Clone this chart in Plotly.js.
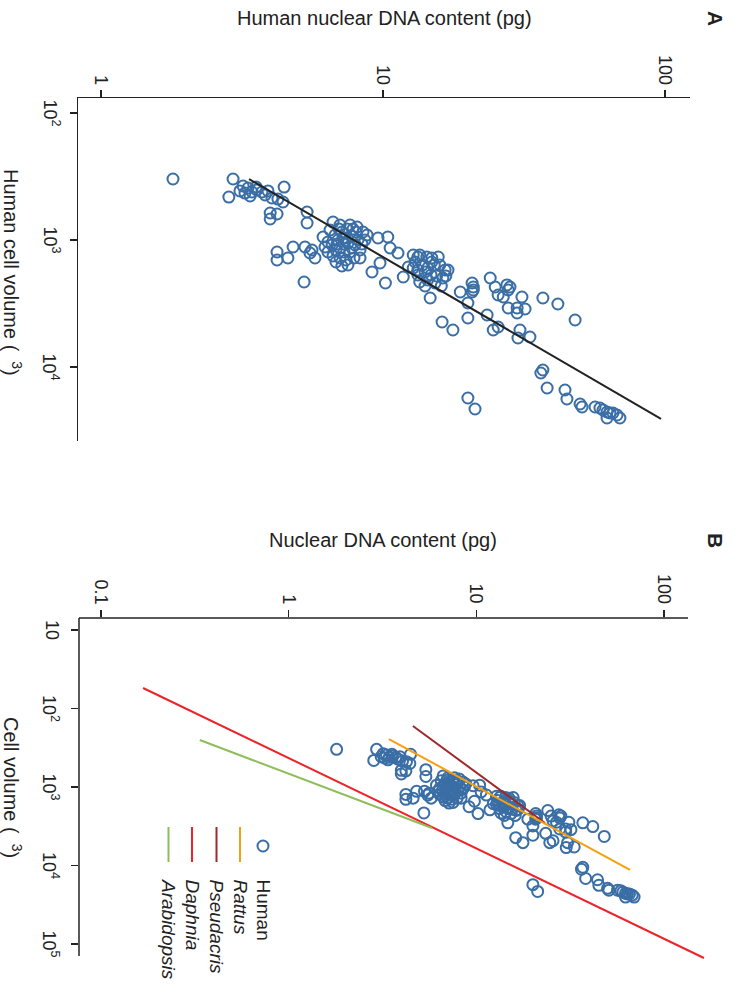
<!DOCTYPE html>
<html><head><meta charset="utf-8">
<script src="https://cdn.plot.ly/plotly-3.0.1.min.js"></script>
<style>html,body{margin:0;padding:0;background:#fff}</style>
</head><body><div id="chart" style="width:746px;height:991px"></div>
<script>
// Human cells: nuclear DNA content (pg) and cell volume (um^3)
const humanDNA = [
 1.80,2.94,2.84,3.11,3.24,3.32,3.43,3.57,3.72,3.82,
 3.91,4.04,4.24,4.42,4.46,3.98,4.21,3.98,3.19,3.38,
 3.55,5.38,5.38,4.21,4.21,4.60,4.80,5.29,5.25,5.51,
 5.60,5.74,6.65,6.13,7.04,7.64,8.09,8.49,8.78,6.49,
 6.76,6.92,7.15,7.33,7.51,7.76,7.96,8.15,7.04,7.27,
 6.81,6.60,6.38,7.64,7.89,7.39,7.04,6.81,8.29,8.42,
 7.27,6.98,7.45,8.02,6.65,7.51,7.15,8.29,6.38,7.76,
 8.63,6.23,6.87,7.83,7.21,9.60,10.4,10.6,11.3,9.76,
 9.14,10.2,11.8,12.8,12.3,13.3,13.3,13.5,14.3,14.9,
 15.7,13.0,13.8,14.4,15.2,15.9,16.6,13.3,14.1,14.8,
 15.5,16.3,13.5,14.4,15.3,16.1,17.0,14.1,14.9,12.8,
 16.7,14.7,16.2,17.7,18.8,20.0,20.0,20.7,20.9,20.9,
 20.7,24.0,25.0,25.6,26.7,28.2,27.8,31.1,27.8,29.9,
 31.9,29.9,27.5,23.4,25.6,24.6,30.6,30.1,33.2,36.9,
 41.7,48.0,36.9,36.3,38.2,44.2,44.9,50.0,50.8,56.5,
 58.8,60.3,62.3,63.8,65.4,67.6,69.2,62.3,20.0,21.2];
const humanVolume = [
 331,331,459,411,427,390,419,404,419,442,
 411,467,476,502,383,613,624,683,376,450,
 383,602,735,1243,1437,1386,1135,1135,2142,1266,
 1199,1386,722,947,762,762,790,865,913,834,
 913,1000,865,964,1056,930,1095,1000,1156,1243,
 1199,1095,1037,1243,1386,1437,1386,1490,1199,1075,
 1075,819,819,865,1337,1573,1602,1386,1243,1156,
 1000,1135,1075,819,964,964,947,1156,1266,1518,
 1786,2181,1956,1313,1632,1361,1723,1313,1361,1386,
 1361,1490,1573,1661,1573,1573,1723,1886,1786,1886,
 1921,1992,2142,2065,2181,2302,1723,2302,1490,1661,
 1921,2862,4422,5113,2567,3134,4114,2181,2345,2476,
 2567,1992,2345,2711,2811,2345,2476,2811,3430,3430,
 3493,3757,2259,3896,4842,5113,5113,5911,5804,2862,
 3190,4265,10560,11150,14640,15180,17870,19560,20650,20650,
 21030,21810,22620,23030,23030,23880,25220,25220,17540,21420];

// Fitted lines (end points)
const humanFitDNA = [3.35, 96.8];
const humanFitVolume = [331, 25650];
const rattusDNA = [3.42, 65.8];
const rattusVolume = [245, 11400];
const pseudacrisDNA = [4.59, 23.2];
const pseudacrisVolume = [167, 2875];
const daphniaDNA = [0.1675, 163];
const daphniaVolume = [54.8, 150700];
const arabidopsisDNA = [0.336, 5.80];
const arabidopsisVolume = [252, 3330];

const legendLabels = ['Human','Rattus','Pseudacris','Daphnia','Arabidopsis'];
const legendItalic = [false,true,true,true,true];

const dnaTicksA = [1,10,100];
const dnaTickTextA = ['1','10','100'];
const volTicksA = [100,1000,10000];
const volTickTextA = ['10<sup>2</sup>','10<sup>3</sup>','10<sup>4</sup>'];
const dnaTicksB = [0.1,1,10,100];
const dnaTickTextB = ['0.1','1','10','100'];
const volTicksB = [10,100,1000,10000,100000];
const volTickTextB = ['10','10<sup>2</sup>','10<sup>3</sup>','10<sup>4</sup>','10<sup>5</sup>'];

const W = 746, H = 991;
const X = p => p / W;
const Y = p => 1 - p / H;
const FONT = 'Liberation Sans, Arial, sans-serif';
const INK = '#222222';
const BLUE = '#3A6EA5';
const C_RAT = '#F5A00F', C_PSE = '#A0282A', C_DAP = '#EE2229', C_ARA = '#8DBE5A';

const markerStyle = {symbol:'circle-open', size:11, color:BLUE, line:{width:2, color:BLUE}};

const traces = [
  {x:humanDNA, y:humanVolume, xaxis:'x', yaxis:'y', type:'scatter', mode:'markers', marker:markerStyle, hoverinfo:'skip'},
  {x:humanFitDNA, y:humanFitVolume, xaxis:'x', yaxis:'y', type:'scatter', mode:'lines', line:{color:INK, width:2}},
  {x:humanDNA, y:humanVolume, xaxis:'x2', yaxis:'y2', type:'scatter', mode:'markers', marker:markerStyle},
  {x:daphniaDNA, y:daphniaVolume, xaxis:'x2', yaxis:'y2', type:'scatter', mode:'lines', line:{color:C_DAP, width:2}},
  {x:arabidopsisDNA, y:arabidopsisVolume, xaxis:'x2', yaxis:'y2', type:'scatter', mode:'lines', line:{color:C_ARA, width:2}},
  {x:pseudacrisDNA, y:pseudacrisVolume, xaxis:'x2', yaxis:'y2', type:'scatter', mode:'lines', line:{color:C_PSE, width:2}},
  {x:rattusDNA, y:rattusVolume, xaxis:'x2', yaxis:'y2', type:'scatter', mode:'lines', line:{color:C_RAT, width:2}}
];

const axCommon = {type:'log', showgrid:false, zeroline:false, ticks:'outside', ticklen:7, tickwidth:1.5,
  tickcolor:INK, showticklabels:false, fixedrange:true};

const annotations = [];
const shapes = [];
function ann(o){ annotations.push(Object.assign({showarrow:false, borderpad:0, font:{family:FONT, size:18, color:INK}}, o)); }

// tick labels panel A
dnaTicksA.forEach((v,i)=>ann({text:dnaTickTextA[i], xref:'x', x:Math.log10(v), yref:'paper', y:Y(86), xanchor:'center', yanchor:'bottom', textangle:90}));
volTicksA.forEach((v,i)=>ann({text:volTickTextA[i], xref:'paper', x:X(63), yref:'y', y:Math.log10(v), xanchor:'right', yanchor:'middle', textangle:90}));
// tick labels panel B
dnaTicksB.forEach((v,i)=>ann({text:dnaTickTextB[i], xref:'x2', x:Math.log10(v), yref:'paper', y:Y(605), xanchor:'center', yanchor:'bottom', textangle:90}));
volTicksB.forEach((v,i)=>ann({text:volTickTextB[i], xref:'paper', x:X(63), yref:'y2', y:Math.log10(v), xanchor:'right', yanchor:'middle', textangle:90}));

// titles
ann({text:'Human nuclear DNA content (pg)', xref:'paper', yref:'paper', x:X(384), y:Y(18), xanchor:'center', yanchor:'middle', font:{family:FONT, size:20, color:INK}});
ann({text:'Human cell volume (\u2002<sup>3</sup>)', xref:'paper', yref:'paper', x:X(13), y:Y(272), xanchor:'center', yanchor:'middle', textangle:90, font:{family:FONT, size:20, color:INK}});
ann({text:'Nuclear DNA content (pg)', xref:'paper', yref:'paper', x:X(383), y:Y(540), xanchor:'center', yanchor:'middle', font:{family:FONT, size:20, color:INK}});
ann({text:'Cell volume (\u2002<sup>3</sup>)', xref:'paper', yref:'paper', x:X(13), y:Y(787), xanchor:'center', yanchor:'middle', textangle:90, font:{family:FONT, size:20, color:INK}});
ann({text:'<b>A</b>', xref:'paper', yref:'paper', x:X(716), y:Y(18), xanchor:'center', yanchor:'middle', textangle:90, font:{family:FONT, size:21, color:INK}});
ann({text:'<b>B</b>', xref:'paper', yref:'paper', x:X(716), y:Y(540), xanchor:'center', yanchor:'middle', textangle:90, font:{family:FONT, size:21, color:INK}});

// panel B axis lines (plot area extends a bit further so the Daphnia line is not cut)
shapes.push({type:'line', xref:'paper', yref:'paper', x0:X(79), x1:X(688), y0:Y(618), y1:Y(618), line:{color:INK, width:1.5}});
shapes.push({type:'line', xref:'paper', yref:'paper', x0:X(79), x1:X(79), y0:Y(618), y1:Y(956), line:{color:INK, width:1.5}});

// legend (rotated)
const legX = [263, 240, 216.5, 192, 168.5];
const legColors = [BLUE, C_RAT, C_PSE, C_DAP, C_ARA];
shapes.push({type:'circle', xref:'paper', yref:'paper', x0:X(257.5), x1:X(268.5), y0:Y(840.5), y1:Y(851.5), line:{color:BLUE, width:2}});
for (let i=1;i<legendLabels.length;i++){
  shapes.push({type:'line', xref:'paper', yref:'paper', x0:X(legX[i]), x1:X(legX[i]), y0:Y(827), y1:Y(862), line:{color:legColors[i], width:2}});
}
legendLabels.forEach((t,i)=>ann({text: legendItalic[i] ? '<i>'+t+'</i>' : t, xref:'paper', yref:'paper', x:X(legX[i]), y:Y(878), xanchor:'center', yanchor:'top', textangle:90, font:{family:FONT, size:19, color:INK}}));

const layout = {
  width:W, height:H, margin:{l:0,r:0,t:0,b:0}, paper_bgcolor:'#fff', plot_bgcolor:'rgba(0,0,0,0)',
  showlegend:false, font:{family:FONT, color:INK},
  xaxis: Object.assign({}, axCommon, {domain:[X(78), X(690)], range:[-0.0816, 2.0887], side:'top', anchor:'y', tickvals:dnaTicksA, showline:true, linecolor:INK, linewidth:1.5}),
  yaxis: Object.assign({}, axCommon, {domain:[Y(441), Y(98)], range:[4.5827, 1.8819], side:'left', anchor:'x', tickvals:volTicksA, showline:true, linecolor:INK, linewidth:1.5}),
  xaxis2: Object.assign({}, axCommon, {domain:[X(79), X(712)], range:[-1.1172, 2.2552], side:'top', anchor:'y2', tickvals:dnaTicksB, showline:false}),
  yaxis2: Object.assign({}, axCommon, {domain:[Y(964), Y(618)], range:[5.2548, 0.8471], side:'left', anchor:'x2', tickvals:volTicksB, showline:false}),
  annotations, shapes
};

Plotly.newPlot('chart', traces, layout, {staticPlot:true, displayModeBar:false});
</script></body></html>
